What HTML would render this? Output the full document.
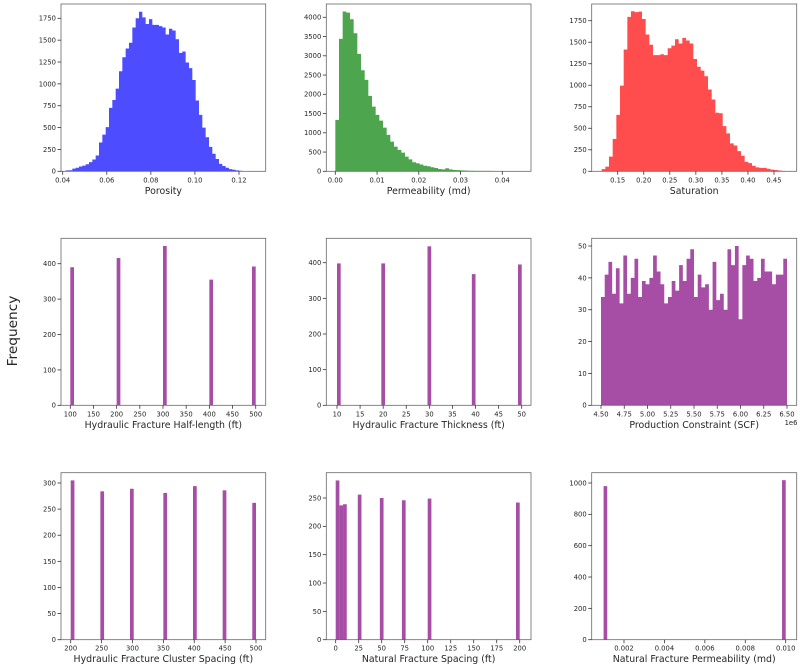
<!DOCTYPE html>
<html><head><meta charset="utf-8"><style>
html,body{margin:0;padding:0;background:#fff;width:800px;height:668px;overflow:hidden}
svg{display:block}
text{font-family:"DejaVu Sans","Liberation Sans",sans-serif;fill:#262626}
</style></head><body>
<svg id="s" width="800" height="668" xmlns="http://www.w3.org/2000/svg">
<text x="0" y="0" transform="translate(17,331) rotate(-90)" text-anchor="middle" font-size="13.7">Frequency</text>
<text x="791" y="425" text-anchor="middle" font-size="6.8">1e6</text>
</svg>
<script>
const S=document.getElementById('s');let h='';
function panel(p){
 const yv=v=>p.B-(p.B-p.y1p)*v/p.y1v;
 const xv=v=>p.x0p+(v-p.x0v)*(p.x1p-p.x0p)/(p.x1v-p.x0v);
 if(p.bars){let d=`M${p.bs.toFixed(2)} ${p.B}`;p.bars.forEach((v,i)=>{const x=p.bs+i*p.bw;const y=yv(v).toFixed(2);d+=` L${x.toFixed(2)} ${y} L${(x+p.bw).toFixed(2)} ${y}`;});d+=` L${(p.bs+p.bars.length*p.bw).toFixed(2)} ${p.B} Z`;h+=`<path d="${d}" fill="${p.c}"/>`;}
 if(p.disc){p.disc.forEach(([xd,v])=>{const x=xv(xd);const y=yv(v);h+=`<rect x="${x.toFixed(2)}" y="${y.toFixed(2)}" width="${p.bw.toFixed(2)}" height="${(p.B-y).toFixed(2)}" fill="${p.c}"/>`;});}
 h+=`<rect x="${p.L}" y="${p.T}" width="${p.R-p.L}" height="${p.B-p.T}" fill="none" stroke="#666" stroke-width="0.8"/>`;
 p.yt.forEach(v=>{const y=yv(v);h+=`<line x1="${p.L-3.5}" x2="${p.L}" y1="${y}" y2="${y}" stroke="#333" stroke-width="0.8"/><text x="${p.L-5}" y="${y+2.4}" text-anchor="end" font-size="6.8">${p.yf?p.yf(v):v}</text>`;});
 p.xt.forEach(v=>{const x=xv(v);h+=`<line x1="${x}" x2="${x}" y1="${p.B}" y2="${p.B+3.5}" stroke="#333" stroke-width="0.8"/><text x="${x}" y="${p.B+11}" text-anchor="middle" font-size="6.8">${p.xf?p.xf(v):v}</text>`;});
 h+=`<text x="${(p.L+p.R)/2}" y="${p.B+22.5}" text-anchor="middle" font-size="9.4">${p.lab}</text>`;
}
function rng(a,b,s){const r=[];for(let v=a;v<=b+1e-9;v+=s)r.push(+v.toFixed(6));return r}
const blue='rgb(77,77,255)',green='rgb(77,166,77)',red='rgb(255,77,77)',pur='rgb(166,77,166)';
const R1={T:4,B:171.3},R2={T:238.3,B:405.3},R3={T:472.7,B:639.7};
panel({...R1,L:61,R:265.7,c:blue,x0v:.04,x0p:62.7,x1v:.12,x1p:239,y1v:1750,y1p:18.3,
 bs:65.67,bw:3.333,bars:[10,12,30,40,55,65,80,105,135,180,330,420,505,725,815,945,1145,1305,1405,1470,1645,1750,1825,1760,1685,1740,1675,1675,1660,1645,1565,1630,1610,1510,1355,1370,1245,1180,1045,810,645,500,390,280,200,140,85,60,40,25,18,10,7,4,4,3],
 yt:rng(0,1750,250),xt:rng(.04,.12,.02),xf:v=>v.toFixed(2),lab:'Porosity'});
panel({...R1,L:326.3,R:531,c:green,x0v:0,x0p:335.3,x1v:.04,x1p:502.3,y1v:4000,y1p:17.3,
 bs:335.33,bw:3.667,bars:[1335,3440,4150,4120,3950,3585,3050,2625,2375,1960,1680,1465,1315,1135,945,770,640,555,485,380,310,235,210,175,145,130,105,85,60,50,80,50,35,30,25,20,15,15,12,10,10,10,10,6,5,5,4,3],
 yt:rng(0,4000,500),xt:rng(0,.04,.01),xf:v=>v.toFixed(2),lab:'Permeability (md)'});
panel({...R1,L:591.7,R:796.7,c:red,x0v:.15,x0p:617.7,x1v:.45,x1p:774,y1v:1750,y1p:20.7,
 bs:601.67,bw:3.667,bars:[25,55,170,375,655,995,1415,1795,1860,1850,1855,1770,1590,1470,1350,1350,1360,1350,1430,1460,1535,1485,1550,1520,1485,1305,1215,1170,1105,950,835,680,675,525,440,325,300,235,180,110,95,65,45,40,40,30,20,15,10,5],
 yt:rng(0,1750,250),xt:rng(.15,.45,.05),xf:v=>v.toFixed(2),lab:'Saturation'});
panel({...R2,L:61,R:265.7,c:pur,x0v:100,x0p:70.3,x1v:500,x1p:255.7,y1v:400,y1p:263.7,bw:3.71,
 disc:[[100,390],[200,416],[300,450],[400,355],[492,392]],yt:rng(0,400,100),xt:rng(100,500,50),lab:'Hydraulic Fracture Half-length (ft)'});
panel({...R2,L:326.3,R:531,c:pur,x0v:10,x0p:337,x1v:50,x1p:521.7,y1v:400,y1p:262.7,bw:3.69,
 disc:[[10,398],[19.6,398],[29.6,446],[39.2,368],[49.2,395]],yt:rng(0,400,100),xt:rng(10,50,5),lab:'Hydraulic Fracture Thickness (ft)'});
panel({...R2,L:591.7,R:796.7,c:pur,x0v:4.5,x0p:601,x1v:6.5,x1p:787,y1v:50,y1p:246,bs:601,bw:3.72,
 bars:[34,41,45,35,43,32,47,35,40,46,34,39,38,40,47,42,38,32,34,39,36,44,39,46,49,34,41,37,38,30,45,33,35,30,49,44,50,27,44,47,46,39,40,46,42,42,38,41,41,46],
 yt:rng(0,50,10),xt:rng(4.5,6.5,.25),xf:v=>v.toFixed(2),lab:'Production Constraint (SCF)'});
panel({...R3,L:61,R:265.7,c:pur,x0v:200,x0p:70.7,x1v:500,x1p:256,y1v:300,y1p:483,bw:3.71,
 disc:[[200,305],[248,284],[296,289],[350,281],[398,294],[446,286],[494,262]],yt:rng(0,300,50),xt:rng(200,500,50),lab:'Hydraulic Fracture Cluster Spacing (ft)'});
panel({...R3,L:326.3,R:531,c:pur,x0v:0,x0p:335.7,x1v:200,x1p:519.7,y1v:250,y1p:498,bw:3.68,
 disc:[[0,281],[4,237],[8,239],[24,256],[48,250],[72,246],[100,249],[196,242]],yt:rng(0,250,50),xt:rng(0,200,25),lab:'Natural Fracture Spacing (ft)'});
panel({...R3,L:591.7,R:796.7,c:pur,x0v:.002,x0p:624,x1v:.01,x1p:785.7,y1v:1000,y1p:483,bw:3.64,
 disc:[[.00099,980],[.00982,1018]],yt:rng(0,1000,200),xt:rng(.002,.01,.002),xf:v=>v.toFixed(3),lab:'Natural Fracture Permeability (md)'});
S.insertAdjacentHTML('beforeend',h);
</script>
</body></html>
